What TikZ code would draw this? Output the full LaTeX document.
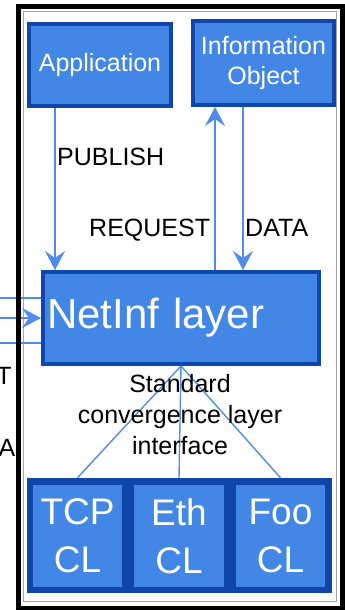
\documentclass[tikz,border=0pt]{standalone}
\usepackage{fontspec}
\setmainfont{Liberation Sans}
\usetikzlibrary{arrows.meta}
\definecolor{boxfill}{RGB}{66,134,230}
\definecolor{boxedge}{RGB}{16,70,170}
\definecolor{wirecol}{RGB}{80,140,235}

\begin{document}
\begin{tikzpicture}[x=1pt,y=-1pt,
		every node/.style={inner sep=0pt},
		blk/.style={draw=boxedge, fill=boxfill, line width=4pt, text=white, align=center},
		clbox/.style={fill=boxfill, minimum width=89pt, minimum height=102pt, text=white,
			align=center, font=\fontsize{37}{48}\selectfont},
		lbl/.style={font=\fontsize{25}{31}\selectfont},
		wire/.style={draw=wirecol, line width=1.4pt},
		arr/.style={-{Stealth[length=19pt,width=20pt,inset=7pt]}}]
		\useasboundingbox (0,0) rectangle (345,610);
		\clip (0,0) rectangle (345,610);
		\draw [black!35, line width=0.8pt] (23,11) rectangle (336,601);
		% upper boxes
		\node [blk, minimum width=142pt, minimum height=82pt, font=\fontsize{25}{30}\selectfont] (app) at (100,65) {\raisebox{-6pt}{Application}};
		\node [blk, minimum width=141pt, minimum height=84pt, font=\fontsize{25}{30}\selectfont] (iobj) at (263.5,63) {Information\\Object};
		\node [blk, minimum height=92pt, text width=268pt, inner xsep=4pt, align=left, font=\fontsize{42}{48}\selectfont] (netinf) at (181,318) {NetInf layer};
		% convergence layers
		\node [fill=boxedge, minimum width=305pt, minimum height=115pt] (cl) at (179.5,535.5) {};
		\node [clbox] (tcp) at (77.5,536) {TCP\\CL};
		\node [clbox, minimum width=90pt] (eth) at (179,536) {Eth\\CL};
		\node [clbox] (foo) at (280.5,536) {Foo\\CL};
		% arrows
		\draw [wire, arr] ([xshift=28pt]app.south west) -- ([xshift=28pt]app.south west |- netinf.north);
		\draw [wire, arr] ([xshift=24pt]iobj.south west |- netinf.north) -- ([xshift=24pt]iobj.south west);
		\draw [wire, arr] ([xshift=52pt]iobj.south west) -- ([xshift=52pt]iobj.south west |- netinf.north);
		\coordinate (in1) at (-5,298);
		\coordinate (in2) at (-5,318);
		\coordinate (in3) at (-5,343);
		\draw [wire] (in1) -- (in1 -| netinf.west);
		\draw [wire, arr] (in2) -- (in2 -| netinf.west);
		\draw [wire] (in3) -- (in3 -| netinf.west);
		\foreach \c in {tcp,eth,foo}
			\draw [wire] (netinf.south) -- (\c |- cl.north);
		% labels
		\node [lbl, anchor=base west] (publish) at (57,165) {PUBLISH};
		\node [lbl, anchor=base west] (request) at (89,236) {REQUEST};
		\node [lbl, anchor=base west] (data) at (245,236) {DATA};
		\node [lbl, align=center] (scli) at (180,415) {Standard\\convergence layer\\interface};
		\node [lbl, anchor=base] (cutt) at (4,384) {T};
		\node [lbl, anchor=base] (cuta) at (7,456) {A};
		% frame
		\draw [line width=5pt] (18,6.5) rectangle (342,608);
\end{tikzpicture}
\end{document}
